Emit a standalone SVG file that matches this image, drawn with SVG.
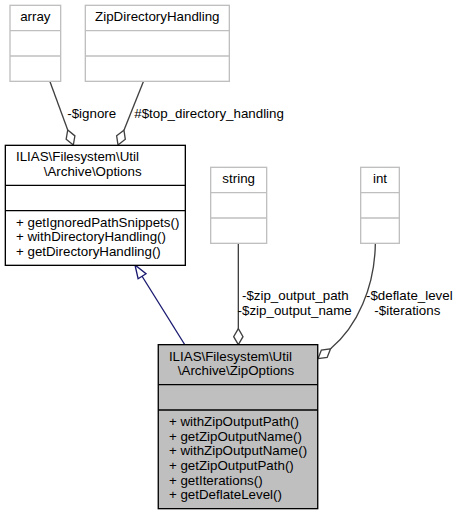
<svg xmlns="http://www.w3.org/2000/svg" width="457" height="515" viewBox="0 0 457 515">
<style>
text{font-family:"Liberation Sans",Arial,Helvetica,sans-serif;font-size:10px;fill:#000}
.m{text-anchor:middle}
.ext{fill:#fff;stroke:#bfbfbf;stroke-width:1}
.cls{fill:#fff;stroke:#000;stroke-width:1}
.cur{fill:#bfbfbf;stroke:#000;stroke-width:1}
.dg{stroke:#bfbfbf;stroke-width:1}
.dk{stroke:#000;stroke-width:1}
.agg{fill:none;stroke:#404040;stroke-width:1}
.inh{fill:none;stroke:#191970;stroke-width:1}
</style>
<rect width="457" height="515" fill="#fff"/>
<g transform="scale(1.33333)">
<g id="connectors">
<path class="agg" d="M37.5,61.3 L50.8,97.5"/>
<polygon class="agg" points="55,108.75 56.18,101.9 50.8,97.5 49.62,104.36"/>
<text class="m" x="68.8" y="88.5">-$ignore</text>
<path class="agg" d="M107.5,61.3 L92.96,97.6"/>
<polygon class="agg" points="88.5,108.75 93.98,104.48 92.96,97.6 87.48,101.88"/>
<text class="m" x="156.8" y="88.5">#$top_directory_handling</text>
<path class="inh" d="M138.75,258.75 L106.55,207.2"/>
<polygon class="inh" fill="#fff" points="101.25,198.75 103.58,209.05 109.52,205.35"/>
<path class="agg" d="M178.75,183 L178.75,246.5"/>
<polygon class="agg" points="178.75,258.5 182.25,252.5 178.75,246.5 175.25,252.5"/>
<text class="m" x="221.5" y="225">-$zip_output_path</text>
<text class="m" x="221" y="236">-$zip_output_name</text>
<path class="agg" d="M281.5,183 C281,215 268,245 247.92,261.56"/>
<polygon class="agg" points="238.5,269 245.37,268.05 247.92,261.56 241.03,262.55"/>
<text class="m" x="307" y="225">-$deflate_level</text>
<text class="m" x="305.5" y="236">-$iterations</text>
</g>
<g id="array">
<rect class="ext" x="7.5" y="4" width="38" height="57"/>
<line class="dg" x1="7.5" y1="23" x2="45.5" y2="23"/>
<line class="dg" x1="7.5" y1="42" x2="45.5" y2="42"/>
<text class="m" x="26.5" y="16">array</text>
</g>
<g id="ZipDirectoryHandling">
<rect class="ext" x="64" y="4" width="108" height="57"/>
<line class="dg" x1="64" y1="23" x2="172" y2="23"/>
<line class="dg" x1="64" y1="42" x2="172" y2="42"/>
<text class="m" x="118" y="16">ZipDirectoryHandling</text>
</g>
<g id="Options">
<rect class="cls" x="4" y="109" width="135" height="90"/>
<line class="dk" x1="4" y1="139" x2="139" y2="139"/>
<line class="dk" x1="4" y1="158" x2="139" y2="158"/>
<text x="12" y="121">ILIAS\Filesystem\Util</text>
<text class="m" x="69.5" y="132">\Archive\Options</text>
<text x="12" y="170">+ getIgnoredPathSnippets()</text>
<text x="12" y="181">+ withDirectoryHandling()</text>
<text x="12" y="192">+ getDirectoryHandling()</text>
</g>
<g id="string">
<rect class="ext" x="158" y="125.5" width="42" height="57"/>
<line class="dg" x1="158" y1="144.5" x2="200" y2="144.5"/>
<line class="dg" x1="158" y1="163.5" x2="200" y2="163.5"/>
<text class="m" x="179" y="137.5">string</text>
</g>
<g id="int">
<rect class="ext" x="270.5" y="125.5" width="29" height="57"/>
<line class="dg" x1="270.5" y1="144.5" x2="299.5" y2="144.5"/>
<line class="dg" x1="270.5" y1="163.5" x2="299.5" y2="163.5"/>
<text class="m" x="285" y="137.5">int</text>
</g>
<g id="ZipOptions">
<rect class="cur" x="118.7" y="258.5" width="119.6" height="123"/>
<line class="dk" x1="118.7" y1="288.5" x2="238.3" y2="288.5"/>
<line class="dk" x1="118.7" y1="307.5" x2="238.3" y2="307.5"/>
<text x="126.7" y="270.5">ILIAS\Filesystem\Util</text>
<text class="m" x="177" y="281.5">\Archive\ZipOptions</text>
<text x="126.7" y="319.5">+ withZipOutputPath()</text>
<text x="126.7" y="330.5">+ getZipOutputName()</text>
<text x="126.7" y="341.5">+ withZipOutputName()</text>
<text x="126.7" y="352.5">+ getZipOutputPath()</text>
<text x="126.7" y="363.5">+ getIterations()</text>
<text x="126.7" y="374.5">+ getDeflateLevel()</text>
</g>
</g>
</svg>
